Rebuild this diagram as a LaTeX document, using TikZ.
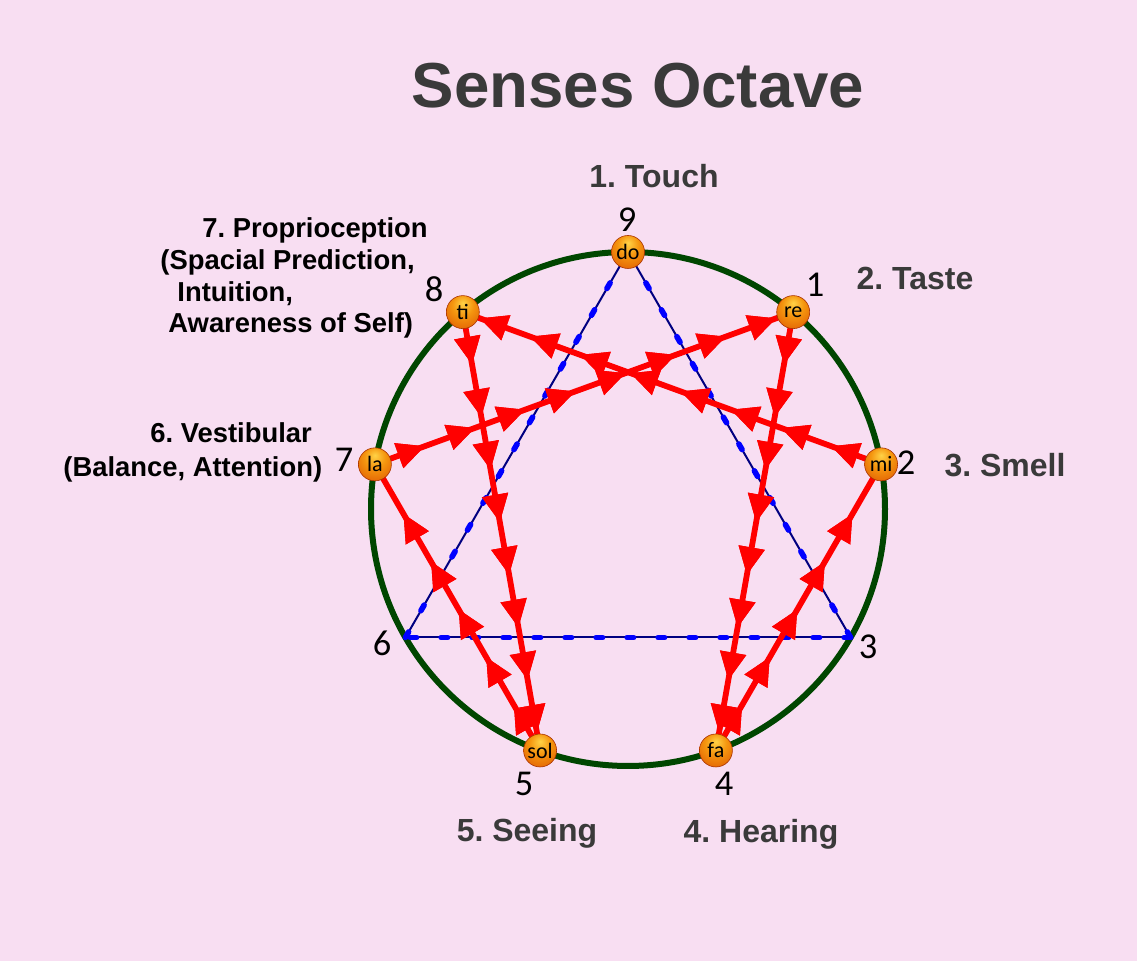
\documentclass[tikz,border=0pt]{standalone}
\usepackage{fontspec}
\setmainfont{Liberation Sans}
\newfontfamily\numfont{Carlito}
\usepackage{tkz-euclide}
\usetikzlibrary{arrows.meta,decorations.markings}
\frenchspacing
\definecolor{BackClr}{RGB}{248,222,242}
\definecolor{RingClr}{RGB}{0,70,0}
\definecolor{HexClr}{RGB}{255,0,0}
\definecolor{TriClr}{RGB}{0,0,128}
\definecolor{DashClr}{RGB}{0,0,255}
\definecolor{TextClr}{RGB}{58,58,58}
\definecolor{OrbHi}{RGB}{255,210,70}
\definecolor{OrbMid}{RGB}{245,150,15}
\definecolor{OrbLo}{RGB}{220,80,0}
\definecolor{OrbEdge}{RGB}{170,50,0}
\pgfdeclareradialshading{orb}{\pgfpoint{0bp}{14bp}}{color(0bp)=(OrbHi); color(16bp)=(OrbMid); color(42bp)=(OrbLo); color(64bp)=(OrbEdge)}

\begin{document}
\begin{tikzpicture}[x=0.5pt,y=0.5pt,
  orb/.style={circle,shading=orb,draw=OrbEdge,line width=0.3pt,minimum size=16.5pt,inner sep=0pt,font=\numfont\fontsize{11}{11}\selectfont},
  numlbl/.style={inner sep=0pt,font=\numfont\fontsize{18.2}{20}\selectfont},
  sense/.style={anchor=base,inner sep=0pt,text=TextClr,font=\bfseries\fontsize{16}{18}\selectfont},
  note/.style={anchor=base west,inner sep=0pt,font=\bfseries\fontsize{13.7}{15}\selectfont},
  hexad/.style={draw,HexClr,line width=2.9pt,postaction={decorate},
    decoration={markings,mark=between positions 0.12 and 0.97 step 0.12 with {\arrow{Triangle[length=14pt,width=12.5pt]}}}},
  hexadshort/.style={draw,HexClr,line width=2.9pt,postaction={decorate},
    decoration={markings,mark=between positions 0.16 and 0.99 step 0.167 with {\arrow{Triangle[length=14pt,width=12.5pt]}}}}]

% Background and page size.
\fill[BackClr] (0,0) rectangle (1137,961);
\useasboundingbox (0,0) rectangle (1137,961);

% Centre and the nine points on the ring.
\tkzDefPoint(628,452){O}
\foreach \i/\a in {1/50,2/10,3/-30,4/-70,5/-110,6/-150,7/170,8/130,9/90}
  {\tkzDefShiftPoint[O](\a:257){P\i}}

% Draw the ring.
\draw[RingClr,line width=3pt] (O) circle[radius=257];

% Draw the triangle 9-3-6.
\tkzDrawSegments[TriClr,line width=1pt](P9,P3 P3,P6 P6,P9)
\tkzDrawSegments[DashClr,line width=2.8pt,dash pattern=on 3.2pt off 12.3pt](P3,P9 P3,P6 P6,P9)

% Draw the hexad 1-4-2-8-5-7-1.
\tkzDrawSegments[hexad](P1,P4 P2,P8 P8,P5 P7,P1)
\tkzDrawSegments[hexadshort](P4,P2 P5,P7)

% The notes.
\foreach \i/\s in {1/re,2/mi,4/fa,5/sol,7/la,8/ti,9/do}
  {\node[orb] (\s) at (P\i) {\s};}

% Numbers round the ring.
\node[numlbl] (n9) at (627,741) {9};
\node[numlbl] (n1) at (815,676) {1};
\node[numlbl] (n2) at (906,498) {2};
\node[numlbl] (n3) at (868,314) {3};
\node[numlbl] (n4) at (724,177) {4};
\node[numlbl] (n5) at (524,177) {5};
\node[numlbl] (n6) at (382,318) {6};
\node[numlbl] (n7) at (344,501) {7};
\node[numlbl] (n8) at (434,672) {8};

% Title and senses.
\node[anchor=base,inner sep=0pt,text=TextClr,font=\bfseries\fontsize{31.8}{36}\selectfont] (title) at (638,853) {Senses Octave};
\node[sense] (touch) at (654,773) {1. Touch};
\node[sense] (taste) at (915,671) {2. Taste};
\node[sense] (smell) at (1005,484) {3. Smell};
\node[sense] (hearing) at (761,118) {4. Hearing};
\node[sense] (seeing) at (527,119) {5. Seeing};
\node[note] (vest1) at (150,518) {6. Vestibular};
\node[note] (vest2) at (63,484) {(Balance, Attention)};
\node[note] (prop1) at (202,723) {7. Proprioception};
\node[note] (prop2) at (160,691) {(Spacial Prediction,};
\node[note] (prop3) at (177,659) {Intuition,};
\node[note] (prop4) at (168,628) {Awareness of Self)};

\end{tikzpicture}
\end{document}
